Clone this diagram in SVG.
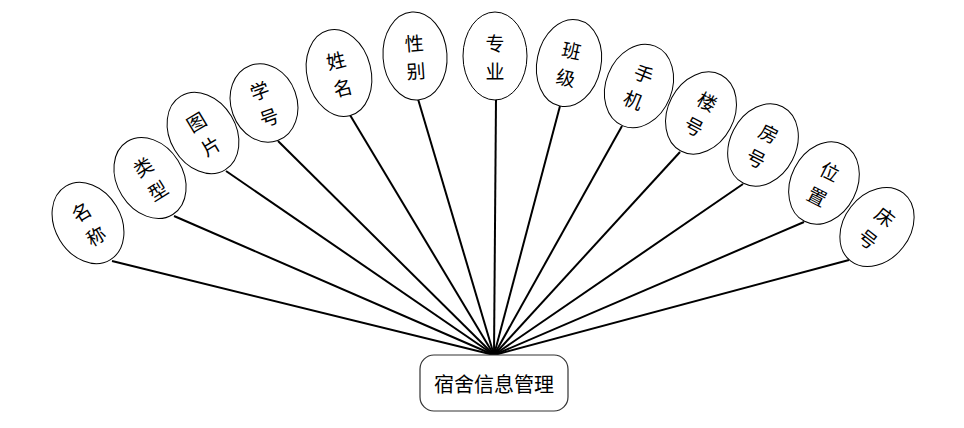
<svg xmlns="http://www.w3.org/2000/svg" width="964" height="428" viewBox="0 0 964 428">
<style>
.attr ellipse{fill:#fff;stroke:#000;stroke-width:1}
.attr text,.main text{font-family:"Noto Sans CJK SC","Noto Sans CJK JP",sans-serif;font-size:19px;fill:#000;text-anchor:middle;dominant-baseline:central}
.main text{font-size:20px}
.conn line{stroke:#000;stroke-width:2}
.main rect{fill:#fff;stroke:#333;stroke-width:1.2}
</style>
<rect width="964" height="428" fill="#fff"/>
<g class="conn" id="connectors">
<line x1="494" y1="355" x2="112" y2="261"/>
<line x1="494" y1="355" x2="174" y2="216"/>
<line x1="494" y1="355" x2="226" y2="171"/>
<line x1="494" y1="355" x2="278" y2="141"/>
<line x1="494" y1="355" x2="350" y2="115"/>
<line x1="494" y1="355" x2="418" y2="99"/>
<line x1="494" y1="355" x2="496" y2="99"/>
<line x1="494" y1="355" x2="560" y2="106"/>
<line x1="494" y1="355" x2="622" y2="126"/>
<line x1="494" y1="355" x2="680" y2="152"/>
<line x1="494" y1="355" x2="743" y2="184"/>
<line x1="494" y1="355" x2="804" y2="222"/>
<line x1="494" y1="355" x2="849" y2="260"/>
</g>
<g class="attr" id="n-mingcheng" transform="translate(88,223) rotate(-31)"><ellipse rx="33" ry="43"/><text y="-14">名</text><text y="14">称</text></g>
<g class="attr" id="n-leixing" transform="translate(150,178) rotate(-32)"><ellipse rx="33" ry="43"/><text y="-14">类</text><text y="14">型</text></g>
<g class="attr" id="n-tupian" transform="translate(203,133) rotate(-31)"><ellipse rx="33" ry="43"/><text y="-14">图</text><text y="14">片</text></g>
<g class="attr" id="n-xuehao" transform="translate(264,103) rotate(-20)"><ellipse rx="33" ry="40"/><text y="-14">学</text><text y="14">号</text></g>
<g class="attr" id="n-xingming" transform="translate(339,73) rotate(-14)"><ellipse rx="32" ry="44"/><text y="-14">姓</text><text y="14">名</text></g>
<g class="attr" id="n-xingbie" transform="translate(415,56) rotate(-4)"><ellipse rx="32" ry="44"/><text y="-14">性</text><text y="14">别</text></g>
<g class="attr" id="n-zhuanye" transform="translate(495,56)"><ellipse rx="32" ry="44"/><text y="-14">专</text><text y="14">业</text></g>
<g class="attr" id="n-banji" transform="translate(569,63) rotate(12)"><ellipse rx="32" ry="44"/><text y="-14">班</text><text y="14">级</text></g>
<g class="attr" id="n-shouji" transform="translate(639,86) rotate(22)"><ellipse rx="33" ry="43"/><text y="-14">手</text><text y="14">机</text></g>
<g class="attr" id="n-louhao" transform="translate(701,113) rotate(28)"><ellipse rx="33" ry="43"/><text y="-14">楼</text><text y="14">号</text></g>
<g class="attr" id="n-fanghao" transform="translate(763,145) rotate(27)"><ellipse rx="33" ry="43"/><text y="-14">房</text><text y="14">号</text></g>
<g class="attr" id="n-weizhi" transform="translate(824,183) rotate(27)"><ellipse rx="33" ry="43"/><text y="-14">位</text><text y="14">置</text></g>
<g class="attr" id="n-chuanghao" transform="translate(877,227) rotate(38)"><ellipse rx="33" ry="43"/><text y="-14">床</text><text y="14">号</text></g>
<g class="main" id="n-main"><rect x="420" y="355" width="148" height="56" rx="14"/><text x="494" y="383">宿舍信息管理</text></g>
</svg>
